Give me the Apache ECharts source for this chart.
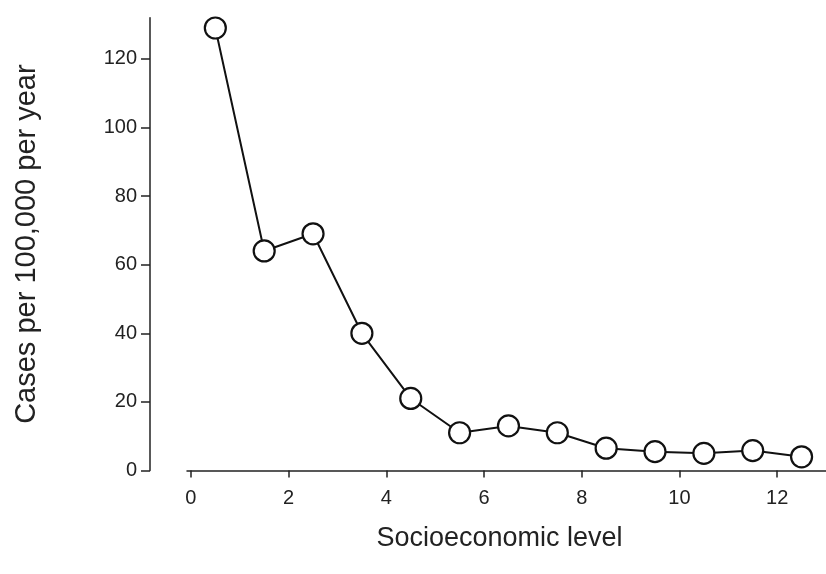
<!DOCTYPE html>
<html>
<head>
<meta charset="utf-8">
<script src="https://cdn.jsdelivr.net/npm/echarts@6/dist/echarts.min.js"></script>
<style>
  html, body { margin: 0; padding: 0; background: #fff; }
  #chart { width: 826px; height: 574px; }
</style>
</head>
<body>
<div id="chart"></div>
<script>
// socioeconomic level (midpoints) and incidence
var levels = [0.5, 1.5, 2.5, 3.5, 4.5, 5.5, 6.5, 7.5, 8.5, 9.5, 10.5, 11.5, 12.5];
var cases = [129, 64, 69, 40, 21, 11, 13, 11, 6.5, 5.5, 5, 5.8, 4];
var xTicks = [0, 2, 4, 6, 8, 10, 12];
var yTicks = [0, 20, 40, 60, 80, 100, 120];

var chart = echarts.init(document.getElementById('chart'));

var points = levels.map(function (v, i) { return [v, cases[i]]; });
var font = 'Liberation Sans, Arial, sans-serif';

var option = {
  animation: false,
  grid: { left: 187, right: 0, top: 17.7, bottom: 103.5, containLabel: false },
  xAxis: {
    type: 'value',
    min: -0.08,
    max: 13,
    name: 'Socioeconomic level',
    nameLocation: 'middle',
    nameGap: 55,
    // nudge the title a bit to the left, like the source
    nameTextStyle: { fontFamily: font, fontSize: 27, color: '#222', padding: [0, 14, 0, 0] },
    splitLine: { show: false },
    axisLine: { show: true, lineStyle: { color: '#222', width: 1.5 } },
    axisTick: { show: true, length: 7, customValues: xTicks, lineStyle: { color: '#222', width: 1.5 } },
    axisLabel: { customValues: xTicks, margin: 18, fontFamily: font, fontSize: 20, color: '#222' }
  },
  yAxis: {
    type: 'value',
    min: 0,
    max: 132,
    offset: 37,
    name: 'Cases per 100,000 per year',
    nameLocation: 'middle',
    nameGap: 109,
    nameTextStyle: { fontFamily: font, fontSize: 29, color: '#222' },
    splitLine: { show: false },
    axisLine: { show: true, onZero: false, lineStyle: { color: '#222', width: 1.5 } },
    axisTick: { show: true, length: 9, customValues: yTicks, lineStyle: { color: '#222', width: 1.5 } },
    axisLabel: { customValues: yTicks, margin: 13, fontFamily: font, fontSize: 20, color: '#222' }
  },
  series: [{
    type: 'line',
    data: points,
    symbol: 'circle',
    symbolSize: 21,
    lineStyle: { color: '#111', width: 2 },
    itemStyle: { color: '#fff', borderColor: '#111', borderWidth: 2.2 }
  }]
};

chart.setOption(option);
</script>
</body>
</html>
